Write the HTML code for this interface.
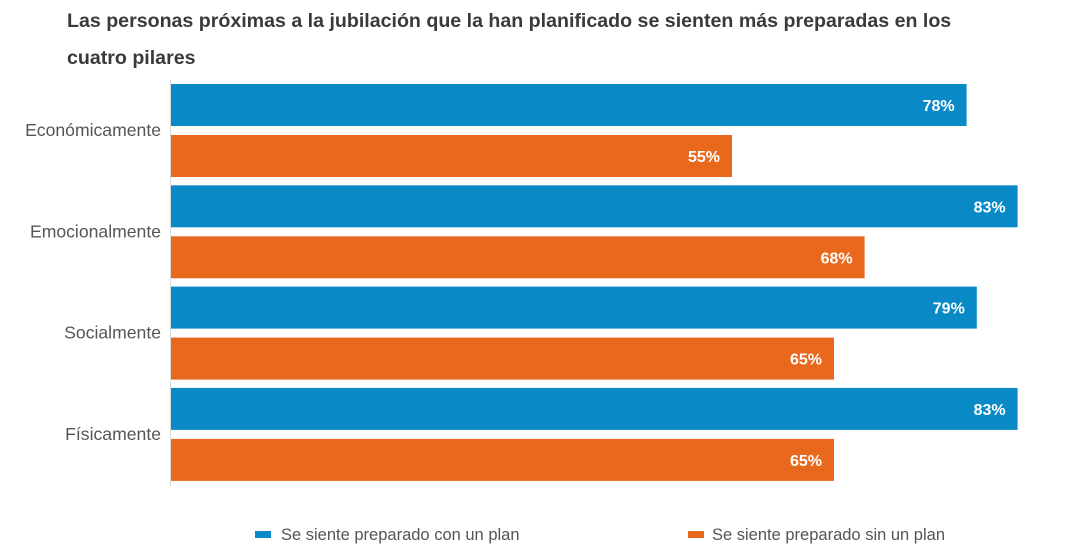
<!DOCTYPE html>
<html><head><meta charset="utf-8"><style>
body{margin:0;background:#fff;width:1077px;height:555px;overflow:hidden;font-family:"Liberation Sans",sans-serif}
</style></head><body>
<svg id="chart" width="1077" height="555" xmlns="http://www.w3.org/2000/svg" font-family="Liberation Sans, sans-serif">
<text x="67" y="27" font-size="19.6" font-weight="bold" fill="#3a3a3a">Las personas próximas a la jubilación que la han planificado se sienten más preparadas en los</text>
<text x="67" y="64" font-size="19.6" font-weight="bold" fill="#3a3a3a">cuatro pilares</text>
<line x1="170.5" y1="80" x2="170.5" y2="486" stroke="#d9d9d9" stroke-width="1"/>
<g id="bars"></g>
<g>
<rect x="255" y="531" width="16" height="7" fill="#0a89c7"/>
<text x="281" y="540" font-size="16.5" fill="#555">Se siente preparado con un plan</text>
<rect x="688" y="531" width="16" height="7" fill="#e8691e"/>
<text x="712" y="540" font-size="16.5" fill="#555">Se siente preparado sin un plan</text>
</g>
</svg>
<script>
const categories = ["Económicamente","Emocionalmente","Socialmente","Físicamente"];
const withPlan = [78,83,79,83];
const withoutPlan = [55,68,65,65];
const NS="http://www.w3.org/2000/svg";
const x0=171, k=10.2, groupTop=84, groupStep=101.3, barH=42, gap=51;
const xs=v=>v*k;
const g=document.getElementById('bars');
function mk(t,a){const e=document.createElementNS(NS,t);for(const n in a)e.setAttribute(n,a[n]);g.appendChild(e);return e;}
categories.forEach((c,i)=>{
  const top=groupTop+i*groupStep;
  const lab=mk('text',{x:161,y:top+52,'text-anchor':'end','font-size':17.6,fill:'#555'});
  lab.textContent=c;
  
  
  [[withPlan[i],'#0a89c7',top,'bar-with-plan'],[withoutPlan[i],'#e8691e',top+gap,'bar-without-plan']].forEach(([v,col,y,nm])=>{
    const r=mk('rect',{x:x0,y:y,width:xs(v),height:barH,fill:col});
    
    
    const t=mk('text',{x:x0+xs(v)-12,y:y+barH/2+6,'text-anchor':'end','font-size':16,'font-weight':'bold',fill:'#fff'});
    t.textContent=v+'%';
    
    
  });
});
</script>
</body></html>
